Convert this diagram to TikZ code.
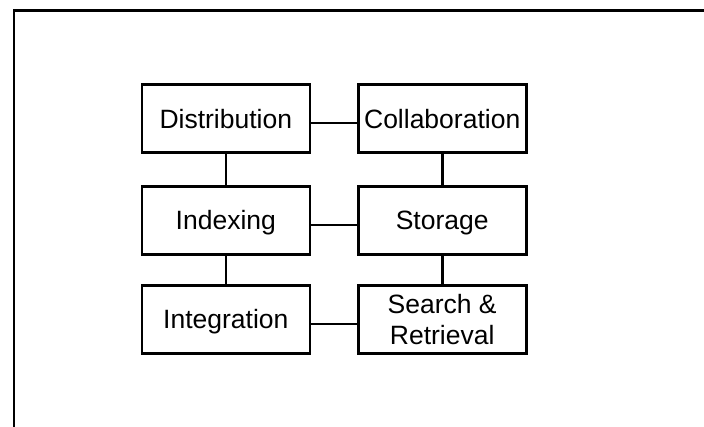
\documentclass[tikz,border=0pt]{standalone}
\usepackage{fontspec}
\setmainfont{Liberation Sans}
\tikzset{
  block/.style={draw, line width=2.6pt, fill=white, minimum width=168pt, minimum height=68pt, inner sep=1pt, align=center},
  oneline/.style={text height=19pt, text depth=0pt},
  twoline/.style={},
  link/.style={line width=2.6pt}
}
\begin{document}
\begin{tikzpicture}[x=1pt, y=1pt, font=\fontsize{26.5}{31}\selectfont, line join=miter]
			\def\xl{225.8} \def\xr{442.2}
			\useasboundingbox (0,0) rectangle (704,427);
			% outer frame, cropped at right and bottom
			\draw[link] (13.8,-5)--(13.8,416.7)--(710,416.7);
			\foreach \n/\x/\y/\s/\t in {dist/\xl/308.3/oneline/Distribution, coll/\xr/308.3/oneline/Collaboration,
				idx/\xl/206.5/oneline/Indexing, stor/\xr/206.5/oneline/Storage,
				integ/\xl/107.6/oneline/Integration, search/\xr/107.6/twoline/{Search \&\\Retrieval}}
				\node[block, \s] (\n) at (\x,\y) {\t};
			\foreach \a/\b in {dist/coll, idx/stor, integ/search}
				\draw[link] ([yshift=-4.5pt]\a.east)--([yshift=-4.5pt]\b.west);
			\foreach \a/\b in {dist/idx, idx/integ, coll/stor, stor/search}
				\draw[link] (\a.south)--(\b.north);
\end{tikzpicture}
\end{document}
